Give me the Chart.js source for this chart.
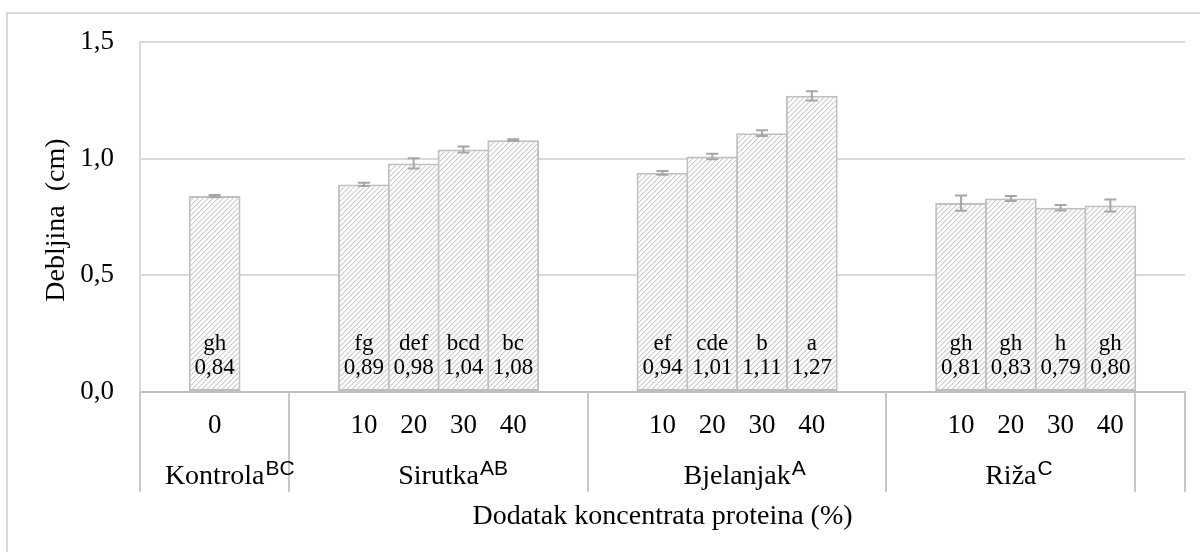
<!DOCTYPE html>
<html>
<head>
<meta charset="utf-8">
<script src="https://cdn.jsdelivr.net/npm/chart.js@4.4.1/dist/chart.umd.min.js"></script>
<style>
  html, body { margin: 0; padding: 0; background: #fff; }
  #wrap { width: 1200px; height: 552px; position: relative; }
</style>
</head>
<body>
<div id="wrap"><canvas id="c"></canvas></div>
<script>
// ---- data ----
const categories = ['', '0', '', '', '10', '20', '30', '40', '', '', '10', '20', '30', '40', '', '', '10', '20', '30', '40', ''];
const thickness  = [null, 0.84, null, null, 0.89, 0.98, 1.04, 1.08, null, null, 0.94, 1.01, 1.11, 1.27, null, null, 0.81, 0.83, 0.79, 0.80, null];
const errors     = [null, 0.005, null, null, 0.007, 0.022, 0.013, 0.004, null, null, 0.008, 0.012, 0.012, 0.02, null, null, 0.033, 0.011, 0.012, 0.026, null];
const letters    = ['', 'gh', '', '', 'fg', 'def', 'bcd', 'bc', '', '', 'ef', 'cde', 'b', 'a', '', '', 'gh', 'gh', 'h', 'gh', ''];
const groupNames = ['Kontrola', 'Sirutka', 'Bjelanjak', 'Riža', ''];
const groupSup   = ['BC', 'AB', 'A', 'C', ''];
const groupSpan  = [3, 6, 6, 5, 1];
const yTitle = 'Debljina  (cm)';
const xTitle = 'Dodatak koncentrata proteina (%)';

const SERIF = "'Liberation Serif', 'Times New Roman', serif";
const SANS = "'Liberation Sans', Arial, sans-serif";
const FS = 27;
const FT = 28;

function hatch() {
  const T = 10;
  const cv = document.createElement('canvas');
  cv.width = T; cv.height = T;
  const g = cv.getContext('2d');
  const img = g.createImageData(T, T);
  for (let y = 0; y < T; y++) for (let x = 0; x < T; x++) {
    const d = (x + y) % 5;
    let v = 255;
    if (d === 0) v = 204; else if (d === 1) v = 232;
    const i = (y * T + x) * 4;
    img.data[i] = v; img.data[i + 1] = v; img.data[i + 2] = v; img.data[i + 3] = 255;
  }
  g.putImageData(img, 0, 0);
  return g.createPattern(cv, 'repeat');
}

Chart.defaults.font.family = SERIF;
Chart.defaults.font.size = FS;
Chart.defaults.color = '#000';

const extras = {
  id: 'extras',
  afterDatasetsDraw(c) {
    const ctx = c.ctx, ys = c.scales.y, meta = c.getDatasetMeta(0);
    ctx.save();
    ctx.strokeStyle = '#a6a6a6';
    ctx.lineWidth = 2;
    meta.data.forEach((el, i) => {
      if (thickness[i] == null || errors[i] == null) return;
      const x = el.x;
      const yt = ys.getPixelForValue(thickness[i] + errors[i]);
      const yb = ys.getPixelForValue(thickness[i] - errors[i]);
      ctx.beginPath();
      ctx.moveTo(x, yt); ctx.lineTo(x, yb);
      ctx.moveTo(x - 6, yt); ctx.lineTo(x + 6, yt);
      ctx.moveTo(x - 6, yb); ctx.lineTo(x + 6, yb);
      ctx.stroke();
    });
    // data labels
    ctx.fillStyle = '#000';
    ctx.font = '23px ' + SERIF;
    ctx.textAlign = 'center';
    ctx.textBaseline = 'alphabetic';
    const base = ys.getPixelForValue(0);
    meta.data.forEach((el, i) => {
      if (thickness[i] == null) return;
      ctx.fillText(letters[i], el.x, base - 42);
      ctx.fillText(thickness[i].toFixed(2).replace('.', ','), el.x, base - 18);
    });
    ctx.restore();
  },
  afterDraw(c) {
    const ctx = c.ctx, xs = c.scales.x, ys = c.scales.y;
    ctx.save();
    // outer frame (top and left visible)
    ctx.strokeStyle = '#d9d9d9';
    ctx.lineWidth = 2;
    ctx.beginPath();
    ctx.moveTo(7, 1200); ctx.lineTo(7, 13); ctx.lineTo(1200, 13);
    ctx.stroke();
    // group separators in the category area
    const edges = [xs.left];
    let idx = 0;
    groupSpan.forEach(s => {
      idx += s;
      edges.push(idx >= categories.length ? xs.right
        : (xs.getPixelForValue(idx - 1) + xs.getPixelForValue(idx)) / 2);
    });
    ctx.strokeStyle = '#c8c8c8';
    ctx.lineWidth = 2;
    ctx.beginPath();
    edges.forEach(x => { ctx.moveTo(Math.round(x), xs.top); ctx.lineTo(Math.round(x), xs.top + 100); });
    ctx.stroke();
    // group labels
    ctx.fillStyle = '#000';
    ctx.textBaseline = 'alphabetic';
    groupNames.forEach((g, k) => {
      if (!g) return;
      const cx = (edges[k] + edges[k + 1]) / 2;
      ctx.font = FT + 'px ' + SERIF;
      ctx.textAlign = 'center';
      const w = ctx.measureText(g).width;
      ctx.fillText(g, cx, xs.top + 92);
      ctx.font = '21px ' + SANS;
      ctx.textAlign = 'left';
      ctx.fillText(groupSup[k], cx + w / 2 + 1, xs.top + 83);
    });
    // axis titles
    ctx.font = FT + 'px ' + SERIF;
    ctx.textAlign = 'center';
    ctx.fillText(xTitle, (xs.left + xs.right) / 2, xs.top + 132);
    ctx.translate(64, (ys.top + ys.bottom) / 2 + 3);
    ctx.rotate(-Math.PI / 2);
    ctx.fillText(yTitle, 0, 0);
    ctx.restore();
  }
};

new Chart(document.getElementById('c'), {
  type: 'bar',
  data: {
    labels: categories,
    datasets: [{
      data: thickness,
      backgroundColor: hatch(),
      borderColor: '#bfbfbf',
      borderWidth: 2,
      borderSkipped: false,
      barPercentage: 1.04,
      categoryPercentage: 1
    }]
  },
  options: {
    responsive: true,
    maintainAspectRatio: false,
    animation: false,
    events: [],
    layout: { padding: { top: 40, right: 15, left: 0, bottom: 0 } },
    plugins: { legend: { display: false }, tooltip: { enabled: false } },
    scales: {
      x: {
        grid: { display: false, drawTicks: false },
        border: { display: true, color: '#bfbfbf', width: 2 },
        ticks: { autoSkip: false, maxRotation: 0, minRotation: 0, padding: 18, color: '#000' },
        afterFit(s) { s.height = 160; }
      },
      y: {
        min: 0, max: 1.5,
        grid: { color: '#d9d9d9', lineWidth: 2, drawTicks: false },
        border: { display: true, color: '#d9d9d9', width: 2 },
        ticks: { stepSize: 0.5, padding: 26, color: '#000',
          callback: v => v.toFixed(1).replace('.', ',') },
        afterFit(s) { s.width = 140; }
      }
    }
  },
  plugins: [extras]
});
</script>
</body>
</html>
